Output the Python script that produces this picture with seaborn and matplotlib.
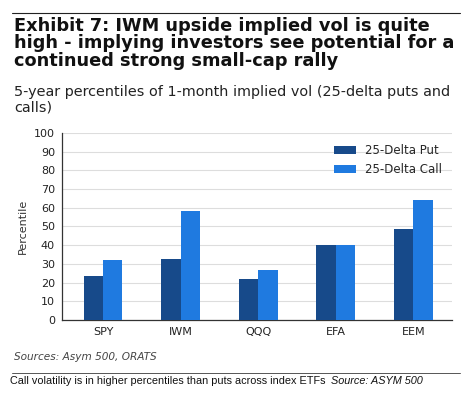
import pandas as pd
import matplotlib.pyplot as plt
import seaborn as sns

# Data
etfs = ['SPY', 'IWM', 'QQQ', 'EFA', 'EEM']
put_pct = [23.5, 32.5, 22, 40, 48.5]
call_pct = [32, 58.5, 26.5, 40, 64]

df = pd.DataFrame({
    'etf': etfs * 2,
    'pct': put_pct + call_pct,
    'kind': ['25-Delta Put'] * len(etfs) + ['25-Delta Call'] * len(etfs),
})

sns.set_style('white')
plt.rcParams['font.family'] = ['DejaVu Sans']

fig = plt.figure(figsize=(4.72, 3.99), dpi=100)
ax = fig.add_axes([0.131, 0.198, 0.827, 0.469])

sns.barplot(data=df, x='etf', y='pct', hue='kind',
            palette=['#174a8a', '#1f7ae0'], width=0.5, saturation=1,
            linewidth=0, ax=ax, zorder=3)

ax.set_ylim(0, 100)
ax.set_yticks(range(0, 101, 10))
ax.set_xlim(-0.53, 4.5)
ax.yaxis.grid(True, color='#dddddd', linewidth=0.8, zorder=0)
ax.set_axisbelow(True)
for s in ['top', 'right']:
    ax.spines[s].set_visible(False)
for s in ['left', 'bottom']:
    ax.spines[s].set_color('#333333')
    ax.spines[s].set_linewidth(0.9)
ax.tick_params(axis='both', length=3, width=0.8, color='#333333',
               labelsize=8, labelcolor='#222222', pad=2)
ax.set_xlabel('')
ax.set_ylabel('Percentile', fontsize=8, color='#333333')

leg = ax.legend(loc='upper right', bbox_to_anchor=(1.0, 0.997), frameon=False,
                fontsize=8.5, handlelength=1.9, handleheight=0.75,
                labelspacing=0.5, handletextpad=0.7)

# Title block
fig.add_artist(plt.Line2D([0.025, 0.975], [0.967, 0.967], color='#222222', linewidth=0.8))
fig.text(0.03, 0.958, 'Exhibit 7: IWM upside implied vol is quite\n'
         'high - implying investors see potential for a\n'
         'continued strong small-cap rally',
         fontsize=12.8, fontweight='bold', va='top', ha='left',
         linespacing=0.98, color='#111111')
fig.text(0.03, 0.788, '5-year percentiles of 1-month implied vol (25-delta puts and\ncalls)',
         fontsize=10.4, va='top', ha='left', linespacing=1.2, color='#222222')

# Footer
fig.text(0.03, 0.105, 'Sources: Asym 500, ORATS', fontsize=7.6, style='italic',
         va='center', ha='left', color='#444444')
fig.add_artist(plt.Line2D([0.025, 0.975], [0.066, 0.066], color='#555555', linewidth=0.7))
cap = fig.text(0.022, 0.045, 'Call volatility is in higher percentiles than puts across index ETFs ',
               fontsize=7.8, family='Liberation Sans', va='center', ha='left', color='#111111')
r = fig.canvas.get_renderer()
bb = cap.get_window_extent(renderer=r)
fig.text(bb.x1 / fig.bbox.width + 0.004, 0.045, 'Source: ASYM 500', fontsize=7.8,
         family='Liberation Sans', style='italic', va='center', ha='left', color='#111111')

fig.savefig('out.png', dpi=100)
